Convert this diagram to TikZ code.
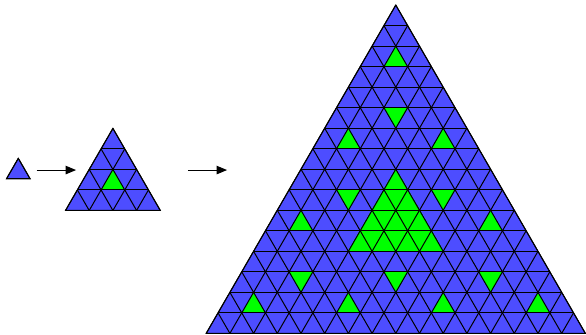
\documentclass[tikz,border=0pt]{standalone}
\usetikzlibrary{arrows.meta}

\definecolor{triblue}{RGB}{77,77,255}
\definecolor{trigreen}{RGB}{0,255,0}

\tikzset{
  grid line/.style={line width=1pt},
  map arrow/.style={line width=1pt, -{Triangle[length=10.5pt,width=8.5pt]}},
}

% cells counted from the apex: row r, k-th triangle in that row
\newcommand{\upcell}[2]{\fill[trigreen] ({-#1/2+#2},{-#1}) -- ++(-0.5,-1) -- ++(1,0) -- cycle;}
\newcommand{\downcell}[2]{\fill[trigreen] ({-#1/2+#2},{-#1}) -- ++(1,0) -- ++(-0.5,-1) -- cycle;}
\newcommand{\bluetri}[1]{\fill[triblue] (0,0) -- ({-#1/2},{-#1}) -- ({#1/2},{-#1}) -- cycle;}
\newcommand{\tilegrid}[1]{%
  \foreach \i in {1,...,#1}{\draw[grid line] ({-\i/2},{-\i}) -- ({\i/2},{-\i});}
  \foreach \i in {0,...,\numexpr#1-1\relax}{%
    \draw[grid line] ({\i/2},{-\i}) -- ({-#1/2+\i},{-#1});
    \draw[grid line] ({-\i/2},{-\i}) -- ({#1/2-\i},{-#1});
  }
  \draw[grid line] (0,0) -- ({-#1/2},{-#1}) -- ({#1/2},{-#1}) -- cycle;
}

\begin{document}
\begin{tikzpicture}[x=23.7pt,y=20.52pt]
  \useasboundingbox (0,0) rectangle (24.726,16.277);

  % apexes of the three triangles
  \coordinate (tri0) at (0.772,8.56);
  \coordinate (tri1) at (4.764,10.02);
  \coordinate (tri2) at (16.70,16.03);

  % One tile
  \begin{scope}[shift={(tri0)}]
    \bluetri{1}
    \tilegrid{1}
  \end{scope}

  % First substitution
  \begin{scope}[shift={(tri1)}]
    \bluetri{4}
    \upcell{2}{1}
    \tilegrid{4}
  \end{scope}

  % Second substitution
  \begin{scope}[shift={(tri2)}]
    \bluetri{16}
    \foreach \r/\k in {2/1, 6/1, 6/5, 10/1, 10/9, 14/1, 14/5, 14/9, 14/13}
      \upcell{\r}{\k}
    \foreach \r/\k in {5/2, 9/2, 9/6, 13/2, 13/6, 13/10}
      \downcell{\r}{\k}
    % green tile grows into a green block
    \fill[trigreen] (0,-8) -- (-2,-12) -- (2,-12) -- cycle;
    \tilegrid{16}
  \end{scope}

  % Arrows
  \coordinate (arrA) at (1.55,7.99);
  \coordinate (arrB) at (3.21,7.99);
  \coordinate (arrC) at (7.93,7.99);
  \coordinate (arrD) at (9.58,7.99);
  \draw[map arrow] (arrA) -- (arrB);
  \draw[map arrow] (arrC) -- (arrD);
\end{tikzpicture}
\end{document}
